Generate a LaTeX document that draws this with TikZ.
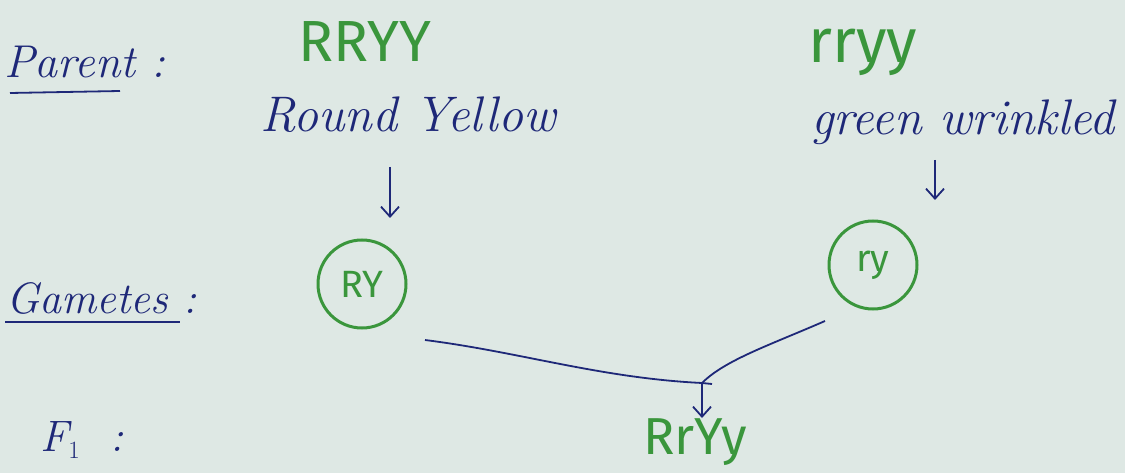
\documentclass[tikz,border=0pt]{standalone}
\usepackage{fontspec}
\setsansfont{Fira Sans}
\usetikzlibrary{arrows.meta}
\definecolor{paper}{RGB}{222,232,228}
\definecolor{ink}{RGB}{30,40,120}
\definecolor{gink}{RGB}{58,150,60}
\tikzset{
  lbl/.style={text=ink, font=\itshape\fontsize{48}{52}\selectfont, inner sep=0pt},
  geno/.style={text=gink, font=\sffamily\fontsize{56}{60}\selectfont, inner sep=0pt},
  gamete/.style={draw=gink, line width=3pt, roundish, text=gink, font=\sffamily\fontsize{38}{42}\selectfont},
  roundish/.style={circle, inner sep=0pt, minimum size=88pt},
  conn/.style={draw=ink, line width=1.8pt},
  arr/.style={conn, -{Straight Barb[length=10pt,width=18pt,line width=1.8pt]}},
  uline/.style={draw=ink, line width=1.8pt}
}
\begin{document}
\begin{tikzpicture}[x=1pt,y=-1pt]
\fill[paper] (0,0) rectangle (1125,473);
\useasboundingbox (0,0) rectangle (1125,473);
% row labels
\node[lbl, font=\itshape\fontsize{46}{50}\selectfont, anchor=west] (parent) at (4,62) {Parent :};
\draw[uline] (10,93) -- (120,91);
\node[lbl, font=\itshape\fontsize{44}{48}\selectfont, anchor=west] (gametes) at (6,298) {Gametes :};
\draw[uline] (5,322) -- (180,322);
\node[lbl, font=\itshape\fontsize{44}{48}\selectfont, anchor=west] (f1) at (40,440) {F$_1$\hspace{30pt}:};
% parents
\node[geno, font=\sffamily\fontsize{58}{62}\selectfont] (RRYY) at (365,42) {RRYY};
\node[lbl, font=\itshape\fontsize{50}{54}\selectfont] (roundyellow) at (408,115) {Round Yellow};
\node[geno, font=\sffamily\fontsize{62}{66}\selectfont] (rryy) at (863,52) {rryy};
\node[lbl, font=\itshape\fontsize{50}{54}\selectfont] (greenwrinkled) at (963,122) {green wrinkled};
% arrows to gametes
\coordinate (a1s) at (390,167);
\coordinate (a1e) at (390,218);
\draw[arr] (a1s) -- (a1e);
\coordinate (a2s) at (935,160);
\coordinate (a2e) at (935,200);
\draw[arr] (a2s) -- (a2e);
% gametes
\node[gamete] (gRY) at (362,284) {RY};
\node[gamete] (gry) at (873,265) {ry};
% cross lines
\coordinate (l1) at (425,340);
\coordinate (l2) at (825,321);
\coordinate (join) at (702,383);
\draw[conn] (l1) .. controls (520,352) and (600,378) .. (join) -- (712,384);
\draw[conn] (l2) .. controls (770,345) and (725,360) .. (join);
\coordinate (a3e) at (702,418);
\draw[arr] (join) -- (a3e);
% F1
\node[geno, font=\sffamily\fontsize{52}{56}\selectfont] (RrYy) at (695,442) {RrYy};
\end{tikzpicture}
\end{document}
